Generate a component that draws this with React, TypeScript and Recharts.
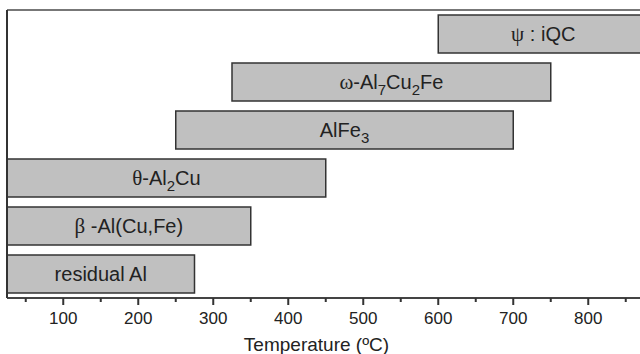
import { Bar, BarChart, LabelList, XAxis, YAxis } from 'recharts'

// phase names, top row first; "_n" marks a subscript digit
const phases = ['ψ : iQC', 'ω-Al_7Cu_2Fe', 'AlFe_3', 'θ-Al_2Cu', 'β -Al(Cu,Fe)', 'residual Al']
const startTemps = [600, 325, 250, 25, 25, 25]
const endTemps = [880, 750, 700, 450, 350, 275]
const tickValues = [50, 100, 150, 200, 250, 300, 350, 400, 450, 500, 550, 600, 650, 700, 750, 800, 850]

const data = phases.map((name, i) => ({ name, range: [startTemps[i], endTemps[i]] }))

const GREEK = /[ψωθβ]/
const textColor = '#222'
const sans = '"Liberation Sans", Arial, sans-serif'

function PhaseLabel(props: any) {
  const { x, y, width, height, value } = props
  const cx = x + width / 2
  const cy = y + height / 2
  const parts: JSX.Element[] = []
  const s = String(value)
  let shifted = false
  for (let i = 0; i < s.length; i++) {
    const ch = s[i]
    if (ch === '_') {
      parts.push(
        <tspan key={i} dy={6} fontSize={15}>
          {s[i + 1]}
        </tspan>,
      )
      shifted = true
      i++
      continue
    }
    const greek = GREEK.test(ch)
    parts.push(
      <tspan
        key={i}
        dy={shifted ? -6 : undefined}
        fontFamily={greek ? '"Liberation Serif", serif' : undefined}
        fontSize={greek ? 21 : undefined}
      >
        {ch}
      </tspan>,
    )
    shifted = false
  }
  return (
    <text
      x={cx}
      y={cy + 7}
      textAnchor="middle"
      fontSize={20}
      fill={textColor}
      fontFamily={sans}
      style={{ whiteSpace: 'pre' }}
    >
      {parts}
    </text>
  )
}

function TempTick(props: any) {
  const { x, y, payload } = props
  const major = payload.value % 100 === 0
  return (
    <g>
      <line x1={x} x2={x} y1={y} y2={y + (major ? 7 : 4)} stroke="#333" strokeWidth={2} />
      {major && (
        <text x={x} y={y + 26} textAnchor="middle" fontSize={17} fill={textColor} fontFamily={sans}>
          {payload.value}
        </text>
      )}
    </g>
  )
}

export default function App() {
  return (
    <div style={{ position: 'absolute', left: 0, top: 0, background: '#fff' }}>
      <BarChart
        width={640}
        height={354}
        data={data}
        layout="vertical"
        margin={{ top: 0, right: 0, left: 0, bottom: 0 }}
        barSize={38}
      >
        <XAxis
          xAxisId="top"
          orientation="top"
          type="number"
          domain={[25, 869]}
          allowDataOverflow
          height={10}
          tick={false}
          tickLine={false}
          axisLine={{ stroke: '#777', strokeWidth: 2 }}
        />
        <XAxis
          type="number"
          domain={[25, 869]}
          allowDataOverflow
          ticks={tickValues}
          interval={0}
          height={56}
          tickSize={0}
          tickMargin={0}
          tick={<TempTick />}
          tickLine={false}
          axisLine={{ stroke: '#444', strokeWidth: 2 }}
          label={{
            value: 'Temperature (ºC)',
            position: 'insideBottom',
            offset: 3,
            dx: -7,
            fontSize: 19,
            fill: textColor,
            fontFamily: sans,
          }}
        />
        <YAxis
          type="category"
          dataKey="name"
          width={7}
          tick={false}
          tickLine={false}
          axisLine={{ stroke: '#333', strokeWidth: 2 }}
        />
        <Bar dataKey="range" fill="#c0c0c0" stroke="#333" strokeWidth={1.5} isAnimationActive={false}>
          <LabelList dataKey="name" content={<PhaseLabel />} />
        </Bar>
      </BarChart>
    </div>
  )
}
